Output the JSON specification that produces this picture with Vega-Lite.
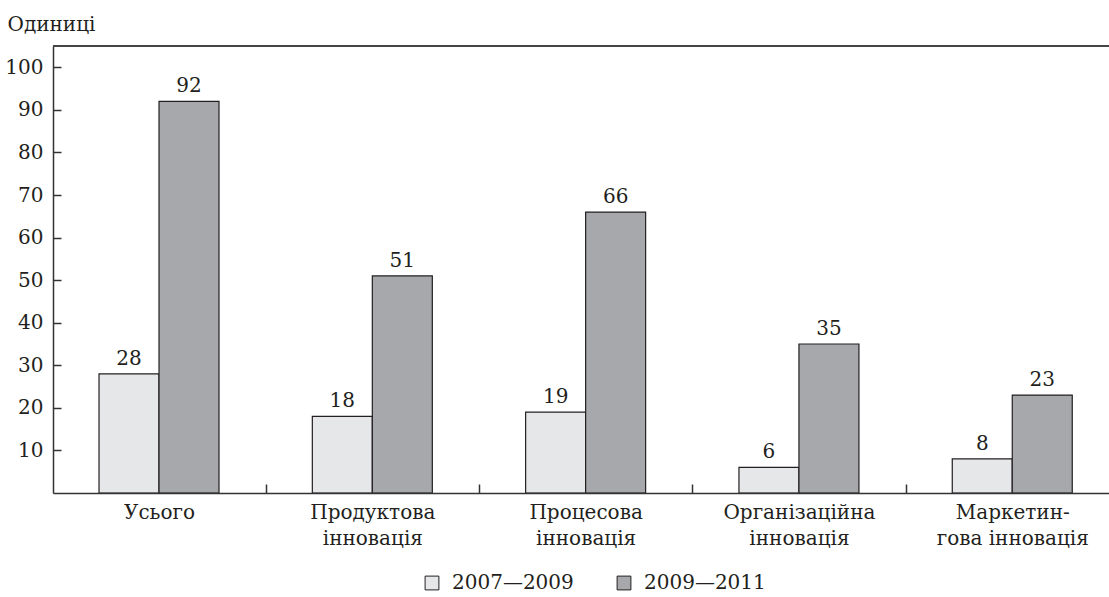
{
  "$schema": "https://vega.github.io/schema/vega-lite/v6.json",
  "width": 1056,
  "height": 447,
  "autosize": "none",
  "padding": {"left": 53, "top": 46, "right": 0, "bottom": 104},
  "background": "white",
  "config": {
    "view": {"stroke": null},
    "font": "DejaVu Serif",
    "text": {"font": "DejaVu Serif"},
    "legend": {"labelFont": "DejaVu Serif"},
    "axis": {"labelFont": "DejaVu Serif", "titleFont": "DejaVu Serif", "labelColor": "#231f20", "titleColor": "#231f20", "domainColor": "#333333", "tickColor": "#333333", "domainWidth": 1.5, "tickWidth": 1.5}
  },
  "data": {
    "values": [
      {"category": "Усього", "period": "2007—2009", "value": 28},
      {"category": "Усього", "period": "2009—2011", "value": 92},
      {"category": "Продуктова|інновація", "period": "2007—2009", "value": 18},
      {"category": "Продуктова|інновація", "period": "2009—2011", "value": 51},
      {"category": "Процесова|інновація", "period": "2007—2009", "value": 19},
      {"category": "Процесова|інновація", "period": "2009—2011", "value": 66},
      {"category": "Організаційна|інновація", "period": "2007—2009", "value": 6},
      {"category": "Організаційна|інновація", "period": "2009—2011", "value": 35},
      {"category": "Маркетин-|гова інновація", "period": "2007—2009", "value": 8},
      {"category": "Маркетин-|гова інновація", "period": "2009—2011", "value": 23}
    ]
  },
  "layer": [
    {
      "mark": {"type": "bar", "stroke": "#231f20", "strokeWidth": 1.2},
      "encoding": {
        "x": {
          "field": "category", "type": "nominal", "sort": null,
          "scale": {"paddingInner": 0.4375, "paddingOuter": 0.194, "align": 0.556},
          "axis": {
            "title": null, "labelAngle": 0, "tickSize": -9, "tickOffset": 106.7, "labelOffset": -106.7,
            "zindex": 1,
            "labelExpr": "datum.value ? split(datum.value, '|') : ''", "labelFontSize": 20, "labelLineHeight": 26,
            "labelPadding": 18, "labelBaseline": "top"
          }
        },
        "xOffset": {"field": "period", "type": "nominal", "scale": {"paddingInner": 0}},
        "y": {
          "field": "value", "type": "quantitative",
          "scale": {"domain": [0, 105], "nice": false},
          "axis": {
            "values": [10, 20, 30, 40, 50, 60, 70, 80, 90, 100],
            "grid": false, "tickSize": -8, "labelPadding": 18, "labelFontSize": 20,
            "title": "Одиниці", "titleAngle": 0, "titleX": -46, "titleY": -16,
            "titleAlign": "left", "titleBaseline": "alphabetic", "titleFontSize": 20, "titleFontWeight": "normal"
          }
        },
        "color": {
          "field": "period", "type": "nominal",
          "scale": {"range": ["#e6e7e9", "#a7a8ab"]},
          "legend": {
            "title": null, "orient": "none", "direction": "horizontal",
            "legendX": 369, "legendY": 527,
            "symbolType": "square", "symbolSize": 190, "symbolStrokeColor": "#231f20", "symbolStrokeWidth": 1,
            "labelFontSize": 20, "labelColor": "#231f20", "labelOffset": 10, "columnPadding": 40
          }
        }
      }
    },
    {
      "mark": {"type": "text", "dy": -9, "baseline": "alphabetic", "fontSize": 20, "color": "#231f20"},
      "encoding": {
        "x": {"field": "category", "type": "nominal", "sort": null},
        "xOffset": {"field": "period", "type": "nominal"},
        "y": {"field": "value", "type": "quantitative"},
        "text": {"field": "value", "type": "quantitative"}
      }
    },
    {
      "mark": {"type": "rule", "color": "#444444", "strokeWidth": 2},
      "encoding": {"y": {"datum": 105}}
    }
  ]
}
